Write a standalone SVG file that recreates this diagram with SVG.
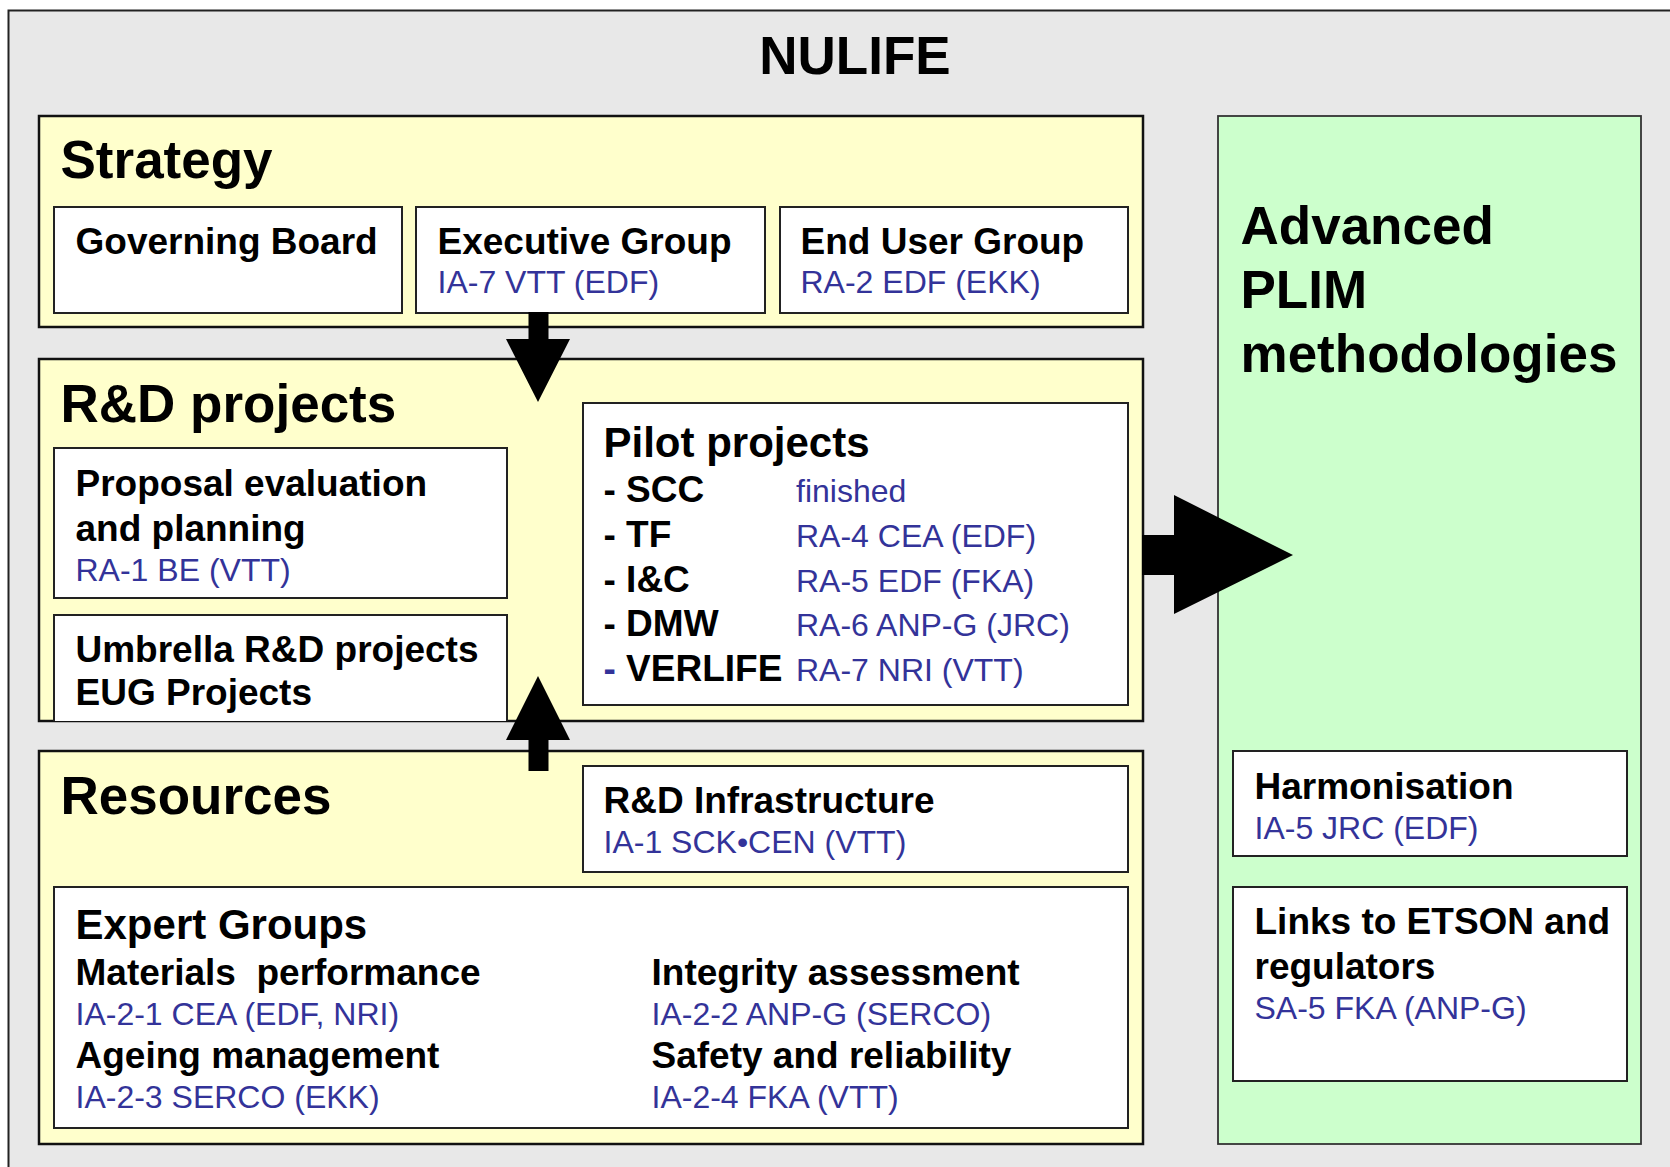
<svg xmlns="http://www.w3.org/2000/svg" width="1670" height="1167" viewBox="0 0 1670 1167">
<style>
text{font-family:"Liberation Sans",Arial,sans-serif;fill:#000}
.t{font-size:53px;font-weight:bold}
.s{font-size:42px;font-weight:bold}
.b{font-size:37px;font-weight:bold}
.r{font-size:32px;fill:#333399}
.grp{fill:#ffffcc;stroke:#111;stroke-width:2.5}
.box{fill:#fff;stroke:#222;stroke-width:2}
.grn{fill:#ccffcc;stroke:#333;stroke-width:1.8}
.arr{fill:#000;stroke:none}
</style>
<rect x="0" y="0" width="1670" height="1167" fill="#fff"/>
<g id="frame">
<rect x="8.5" y="10.5" width="1700" height="1200" fill="#e8e8e8" stroke="#222" stroke-width="2"/>
<text class="t" x="855" y="74" text-anchor="middle">NULIFE</text>
</g>
<g id="advanced">
<rect class="grn" x="1218" y="116" width="423" height="1028"/>
<text class="t" x="1240.5" y="244">Advanced</text>
<text class="t" x="1240.5" y="308">PLIM</text>
<text class="t" x="1240.5" y="372">methodologies</text>
</g>
<g id="harmonisation">
<rect class="box" x="1233" y="751" width="394" height="105"/>
<text class="b" x="1254.5" y="799">Harmonisation</text>
<text class="r" x="1254.5" y="839">IA-5 JRC (EDF)</text>
</g>
<g id="links">
<rect class="box" x="1233" y="887" width="394" height="194"/>
<text class="b" x="1254.5" y="934">Links to ETSON and</text>
<text class="b" x="1254.5" y="979">regulators</text>
<text class="r" x="1254.5" y="1019">SA-5 FKA (ANP-G)</text>
</g>
<g id="strategy">
<rect class="grp" x="39" y="116" width="1104" height="211"/>
<text class="t" x="60.5" y="178">Strategy</text>
</g>
<g id="governing-board">
<rect class="box" x="54" y="207" width="348" height="106"/>
<text class="b" x="75.5" y="254">Governing Board</text>
</g>
<g id="executive-group">
<rect class="box" x="416" y="207" width="349" height="106"/>
<text class="b" x="437.5" y="254">Executive Group</text>
<text class="r" x="437.5" y="293">IA-7 VTT (EDF)</text>
</g>
<g id="end-user-group">
<rect class="box" x="780" y="207" width="348" height="106"/>
<text class="b" x="800.5" y="254">End User Group</text>
<text class="r" x="800.5" y="293">RA-2 EDF (EKK)</text>
</g>
<g id="rd-projects">
<rect class="grp" x="39" y="359" width="1104" height="362"/>
<text class="t" x="60.5" y="421.5">R&amp;D projects</text>
</g>
<g id="proposal-evaluation">
<rect class="box" x="54" y="448" width="453" height="150"/>
<text class="b" x="75.5" y="496">Proposal evaluation</text>
<text class="b" x="75.5" y="541">and planning</text>
<text class="r" x="75.5" y="581">RA-1 BE (VTT)</text>
</g>
<g id="umbrella">
<path class="box" d="M54,721 V615 H507 V721"/>
<text class="b" x="75.5" y="662">Umbrella R&amp;D projects</text>
<text class="b" x="75.5" y="705">EUG Projects</text>
</g>
<g id="pilot-projects">
<rect class="box" x="583" y="403" width="545" height="302"/>
<text class="s" x="603.5" y="457">Pilot projects</text>
<text class="b" x="603.5" y="502">- SCC</text>
<text class="b" x="603.5" y="547">- TF</text>
<text class="b" x="603.5" y="592">- I&amp;C</text>
<text class="b" x="603.5" y="636">- DMW</text>
<text class="b" x="603.5" y="681"><tspan style="fill:#333399">-</tspan> VERLIFE</text>
<text class="r" x="796" y="502">finished</text>
<text class="r" x="796" y="547">RA-4 CEA (EDF)</text>
<text class="r" x="796" y="592">RA-5 EDF (FKA)</text>
<text class="r" x="796" y="636">RA-6 ANP-G (JRC)</text>
<text class="r" x="796" y="681">RA-7 NRI (VTT)</text>
</g>
<g id="resources">
<rect class="grp" x="39" y="751" width="1104" height="393"/>
<text class="t" x="60.5" y="813.5">Resources</text>
</g>
<g id="rd-infrastructure">
<rect class="box" x="583" y="766" width="545" height="106"/>
<text class="b" x="603.5" y="813">R&amp;D Infrastructure</text>
<text class="r" x="603.5" y="853">IA-1 SCK•CEN (VTT)</text>
</g>
<g id="expert-groups">
<rect class="box" x="54" y="887" width="1074" height="241"/>
<text class="s" x="75.5" y="939">Expert Groups</text>
<text class="b" x="75.5" y="985" xml:space="preserve">Materials  performance</text>
<text class="r" x="75.5" y="1025">IA-2-1 CEA (EDF, NRI)</text>
<text class="b" x="75.5" y="1068">Ageing management</text>
<text class="r" x="75.5" y="1108">IA-2-3 SERCO (EKK)</text>
<text class="b" x="651.5" y="985">Integrity assessment</text>
<text class="r" x="651.5" y="1025">IA-2-2 ANP-G (SERCO)</text>
<text class="b" x="651.5" y="1068">Safety and reliability</text>
<text class="r" x="651.5" y="1108">IA-2-4 FKA (VTT)</text>
</g>
<g id="connectors">
<path class="arr" d="M528.5,312 H548.5 V339 H570 L538,402 L506,339 H528.5 Z"/>
<path class="arr" d="M528.5,771 H548.5 V740 H570 L538,676 L506,740 H528.5 Z"/>
<path class="arr" d="M1142,535 H1174 V495 L1293,555 L1174,614 V575 H1142 Z"/>
</g>
</svg>
